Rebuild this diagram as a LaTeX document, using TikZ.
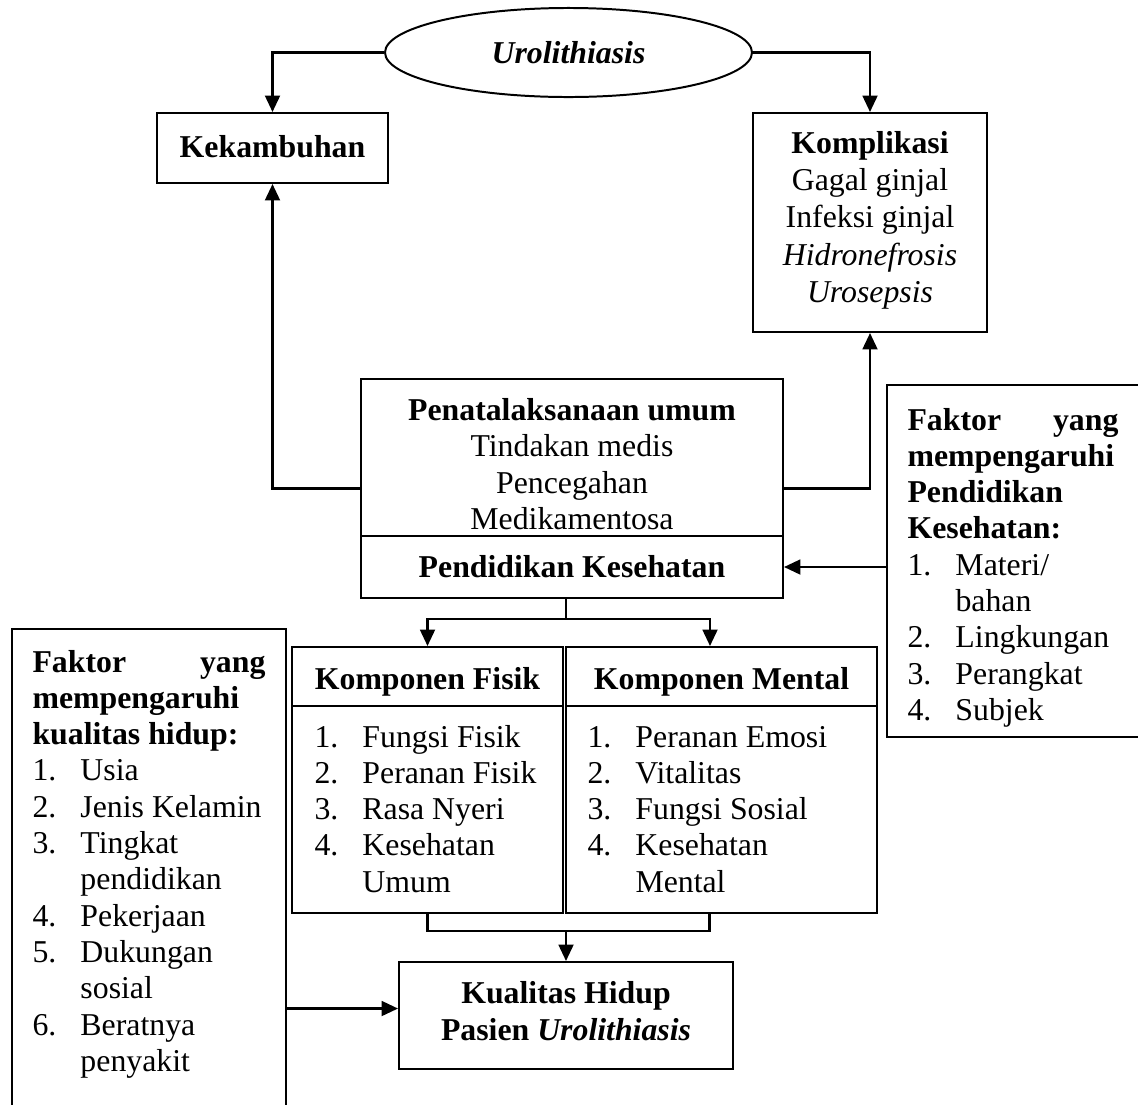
\documentclass[tikz,border=0pt]{standalone}
\usepackage{fontspec}
\setmainfont{Liberation Serif}
\usetikzlibrary{arrows.meta,fit,calc,shapes.geometric}

\newcommand{\itm}[2]{\makebox[18.1pt][l]{#1}#2}
\newcommand{\cnt}[1]{\hspace*{18.1pt}#1}

\tikzset{
  box/.style={draw, line width=0.75pt, inner sep=0pt},
  conn/.style={line width=0.9pt},
  arr/.style={conn, -{Triangle[length=6.2pt,width=5.6pt]}},
  txt/.style={inner sep=0pt, font=\fontsize{12}{13.8}\selectfont},
  lst/.style={inner sep=0pt, font=\fontsize{12}{13.7}\selectfont, anchor=base west},
}

\begin{document}
\begin{tikzpicture}[x=0.3774pt,y=-0.3774pt]
\useasboundingbox (0,0) rectangle (1138,1104);
\clip (0,0) rectangle (1138,1104);

% top ellipse
\node[draw, ellipse, line width=0.75pt, minimum width=138.5pt, minimum height=33.6pt,
      inner sep=0pt, font=\fontsize{12}{13.8}\selectfont] (ell) at (568.5,52.5)
      {\textbf{\textit{Urolithiasis}}};

% Kekambuhan
\node[box, fit={(157,113) (388,183)}] (kek) {};
\node[txt, anchor=base] (kekT) at (272.5,157) {\textbf{Kekambuhan}};

% Komplikasi
\node[box, fit={(753,113) (987,332)}] (kom) {};
\node[txt, anchor=base, font=\fontsize{12}{14.1}\selectfont] (komT) at (870,153)
  {\begin{tabular}[t]{@{}c@{}}\textbf{Komplikasi}\\ Gagal ginjal\\ Infeksi ginjal\\ \textit{Hidronefrosis}\\ \textit{Urosepsis}\end{tabular}};

% Penatalaksanaan
\node[box, fit={(361,379) (783,598)}] (pen) {};
\node[box, fit={(361,536) (783,598)}] (penB) {};
\node[txt, anchor=base] (penT) at (572,420)
  {\begin{tabular}[t]{@{}c@{}}\textbf{Penatalaksanaan umum}\\ Tindakan medis\\ Pencegahan\\ Medikamentosa\end{tabular}};
\node[txt, anchor=base] (penBT) at (572,577) {\textbf{Pendidikan Kesehatan}};

% Faktor pendidikan kesehatan (right, clipped)
\node[box, fit={(887,385) (1150,737)}] (fp) {};
\node[lst] (fpT) at (907,430)
  {\begin{tabular}[t]{@{}l@{}}\makebox[79.6pt][l]{\textbf{Faktor}\hfill\textbf{yang}}\\
   \textbf{mempengaruhi}\\ \textbf{Pendidikan}\\ \textbf{Kesehatan:}\\
   \itm{1.}{Materi/}\\ \cnt{bahan}\\ \itm{2.}{Lingkungan}\\ \itm{3.}{Perangkat}\\ \itm{4.}{Subjek}\end{tabular}};

% Komponen Fisik
\node[box, fit={(292,647) (563,706)}] (fisH) {};
\node[box, fit={(292,706) (563,913)}] (fisB) {};
\node[txt, anchor=base] (fisHT) at (427.5,689) {\textbf{Komponen Fisik}};
\node[lst] (fisT) at (314,747)
  {\begin{tabular}[t]{@{}l@{}}\itm{1.}{Fungsi Fisik}\\ \itm{2.}{Peranan Fisik}\\ \itm{3.}{Rasa Nyeri}\\ \itm{4.}{Kesehatan}\\ \cnt{Umum}\end{tabular}};

% Komponen Mental
\node[box, fit={(566,647) (877,706)}] (menH) {};
\node[box, fit={(566,706) (877,913)}] (menB) {};
\node[txt, anchor=base] (menHT) at (721.5,689) {\textbf{Komponen Mental}};
\node[lst] (menT) at (587,747)
  {\begin{tabular}[t]{@{}l@{}}\itm{1.}{Peranan Emosi}\\ \itm{2.}{Vitalitas}\\ \itm{3.}{Fungsi Sosial}\\ \itm{4.}{Kesehatan}\\ \cnt{Mental}\end{tabular}};

% Kualitas hidup
\node[box, fit={(399,962) (733,1069)}] (kh) {};
\node[txt, anchor=base, font=\fontsize{12}{14}\selectfont] (khT) at (566,1003)
  {\begin{tabular}[t]{@{}c@{}}\textbf{Kualitas Hidup}\\ \textbf{Pasien \textit{Urolithiasis}}\end{tabular}};

% Faktor kualitas hidup (left, clipped)
\node[box, fit={(12,629) (286,1120)}] (fk) {};
\node[lst] (fkT) at (32,672)
  {\begin{tabular}[t]{@{}l@{}}\makebox[87.9pt][l]{\textbf{Faktor}\hfill\textbf{yang}}\\
   \textbf{mempengaruhi}\\ \textbf{kualitas hidup:}\\
   \itm{1.}{Usia}\\ \itm{2.}{Jenis Kelamin}\\ \itm{3.}{Tingkat}\\ \cnt{pendidikan}\\
   \itm{4.}{Pekerjaan}\\ \itm{5.}{Dukungan}\\ \cnt{sosial}\\ \itm{6.}{Beratnya}\\ \cnt{penyakit}\end{tabular}};

% connectors
\draw[arr] (ell.west) -| (kek.north);
\draw[arr] (ell.east) -| (kom.north);
\draw[arr] (pen.west) -| (kek.south);
\draw[arr] (pen.east) -| (kom.south);
\draw[arr] (fp.west |- penB.east) -- (penB.east);

\coordinate (ps) at ($(penB.south)+(-6,0)$);
\coordinate (sp) at ($(penB.south)+(-6,20)$);
\coordinate (mt) at ($(menH.north)+(-11.5,0)$);
\draw[conn] (ps) -- (sp);
\draw[arr] (sp) -| (fisH.north);
\draw[arr] (sp) -| (mt);

\coordinate (mj) at ($(kh.north)+(0,-30)$);
\coordinate (mr) at ($(menB.south)+(-12,0)$);
\draw[conn] (fisB.south) |- (mj) -| (mr);
\draw[arr] (mj) -- (kh.north);

\coordinate (kw) at ($(kh.west)+(0,-7)$);
\draw[arr] (fk.east |- kw) -- (kw);
\end{tikzpicture}
\end{document}
